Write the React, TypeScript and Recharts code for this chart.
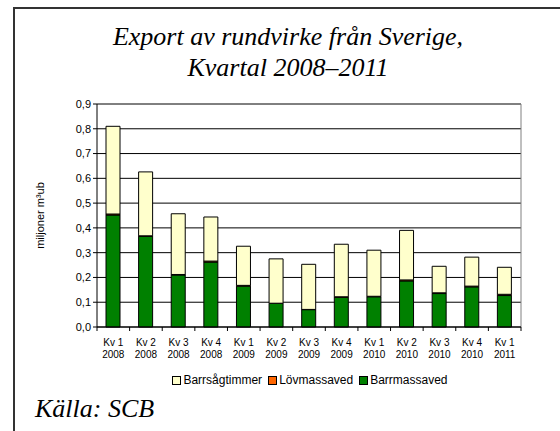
import React from "react";
import { BarChart, Bar, XAxis, YAxis, CartesianGrid, Legend } from "recharts";

const quarters = ["Kv 1", "Kv 2", "Kv 3", "Kv 4", "Kv 1", "Kv 2", "Kv 3", "Kv 4", "Kv 1", "Kv 2", "Kv 3", "Kv 4", "Kv 1"];
const years = ["2008", "2008", "2008", "2008", "2009", "2009", "2009", "2009", "2010", "2010", "2010", "2010", "2011"];
const barrmassaved = [0.452, 0.366, 0.21, 0.262, 0.165, 0.095, 0.07, 0.12, 0.122, 0.186, 0.135, 0.162, 0.127];
const lovmassaved = [0.004, 0.002, 0.002, 0.004, 0.003, 0.001, 0.001, 0.002, 0.002, 0.004, 0.003, 0.003, 0.005];
const barrsagtimmer = [0.354, 0.258, 0.245, 0.178, 0.158, 0.179, 0.182, 0.212, 0.186, 0.2, 0.107, 0.117, 0.109];
const yTicks = [0, 0.1, 0.2, 0.3, 0.4, 0.5, 0.6, 0.7, 0.8, 0.9];

const COLORS = {
  sag: "#FFFFCC",
  lov: "#FF6600",
  barr: "#008000",
};

const SANS = '"Liberation Sans", Arial, sans-serif';
const SERIF =
  '"Liberation Serif", Tinos, "Times New Roman", Times, "Nimbus Roman", "Noto Serif", FreeSerif, "DejaVu Serif", serif';

const data = quarters.map((q, i) => ({
  key: `${q}|${years[i]}`,
  q,
  year: years[i],
  barrmassaved: barrmassaved[i],
  lovmassaved: lovmassaved[i],
  barrsagtimmer: barrsagtimmer[i],
}));

const legendItems = [
  { label: "Barrsågtimmer", color: COLORS.sag },
  { label: "Lövmassaved", color: COLORS.lov },
  { label: "Barrmassaved", color: COLORS.barr },
];

const XTick = (props: any) => {
  const { x, y, payload, index } = props;
  const [q, yr] = String(payload.value).split("|");
  const half = payload.offset ?? 16.3;
  return (
    <g>
      {index === 0 && (
        <line x1={x - half} x2={x - half} y1={y - 8} y2={y - 4} stroke="#000" />
      )}
      <line x1={x + half} x2={x + half} y1={y - 8} y2={y - 4} stroke="#000" />
      <text x={x} y={y + 11} textAnchor="middle" fontSize={10} fontFamily={SANS} fill="#000">
        {q}
      </text>
      <text x={x} y={y + 23} textAnchor="middle" fontSize={10} fontFamily={SANS} fill="#000">
        {yr}
      </text>
    </g>
  );
};

const LegendContent = () => (
  <div
    style={{
      display: "flex",
      justifyContent: "center",
      alignItems: "center",
      fontFamily: SANS,
      fontSize: 12,
      color: "#000",
      gap: 6,
    }}
  >
    {legendItems.map((it) => (
      <span key={it.label} style={{ display: "inline-flex", alignItems: "center" }}>
        <span
          style={{
            display: "inline-block",
            width: 7,
            height: 7,
            background: it.color,
            border: "1px solid #000",
            marginRight: 2,
          }}
        />
        {it.label}
      </span>
    ))}
  </div>
);

export default function App() {
  return (
    <div style={{ position: "absolute", left: 0, top: 0, width: 560, height: 431, background: "#fff", overflow: "hidden" }}>
      <div
        style={{
          position: "absolute",
          left: 13,
          top: 7,
          width: 600,
          height: 500,
          borderLeft: "2px solid #333",
          borderTop: "2px solid #333",
        }}
      />
      <div
        style={{
          position: "absolute",
          left: 0,
          width: 576,
          top: 21,
          textAlign: "center",
          fontFamily: SERIF,
          fontStyle: "italic",
          fontSize: 26,
          lineHeight: "31px",
          color: "#000",
        }}
      >
        Export av rundvirke från Sverige,
        <br />
        Kvartal 2008–2011
      </div>
      <div
        style={{
          position: "absolute",
          left: 35,
          top: 395,
          fontFamily: SERIF,
          fontStyle: "italic",
          fontSize: 26,
          lineHeight: "28px",
          color: "#000",
        }}
      >
        Källa: SCB
      </div>
      <div style={{ position: "absolute", left: 0, top: 0 }}>
        <BarChart
          width={560}
          height={431}
          data={data}
          barSize={14}
          margin={{ top: 104, right: 39, bottom: 60, left: 57 }}
        >
          <CartesianGrid vertical={false} stroke="#000" strokeWidth={1} />
          <CartesianGrid
            horizontal={false}
            stroke="#808080"
            verticalCoordinatesGenerator={(p: any) => [p.offset.left + p.offset.width]}
          />
          <XAxis
            dataKey="key"
            interval={0}
            tickLine={false}
            axisLine={{ stroke: "#000" }}
            tick={<XTick />}
            height={30}
          />
          <YAxis
            domain={[0, 0.9]}
            ticks={yTicks}
            interval={0}
            width={40}
            tickLine={{ stroke: "#000" }}
            tickSize={4}
            axisLine={{ stroke: "#000" }}
            tickFormatter={(v: number) => v.toFixed(1).replace(".", ",")}
            tick={{ fontSize: 11, fill: "#000", fontFamily: SANS }}
            label={{
              value: "miljoner m³ub",
              angle: -90,
              position: "insideLeft",
              dx: -22,
              style: { fontSize: 11, fill: "#000", fontFamily: SANS, textAnchor: "middle" },
            }}
          />
          <Legend
            content={<LegendContent />}
            wrapperStyle={{ position: "absolute", top: 373, left: 60, width: 500, height: 14 }}
          />
          <Bar dataKey="barrmassaved" stackId="a" fill={COLORS.barr} stroke="#000" strokeWidth={1} isAnimationActive={false} name="Barrmassaved" />
          <Bar dataKey="lovmassaved" stackId="a" fill={COLORS.lov} stroke="#000" strokeWidth={1} isAnimationActive={false} name="Lövmassaved" />
          <Bar dataKey="barrsagtimmer" stackId="a" fill={COLORS.sag} stroke="#000" strokeWidth={1} isAnimationActive={false} name="Barrsågtimmer" />
        </BarChart>
      </div>
    </div>
  );
}
